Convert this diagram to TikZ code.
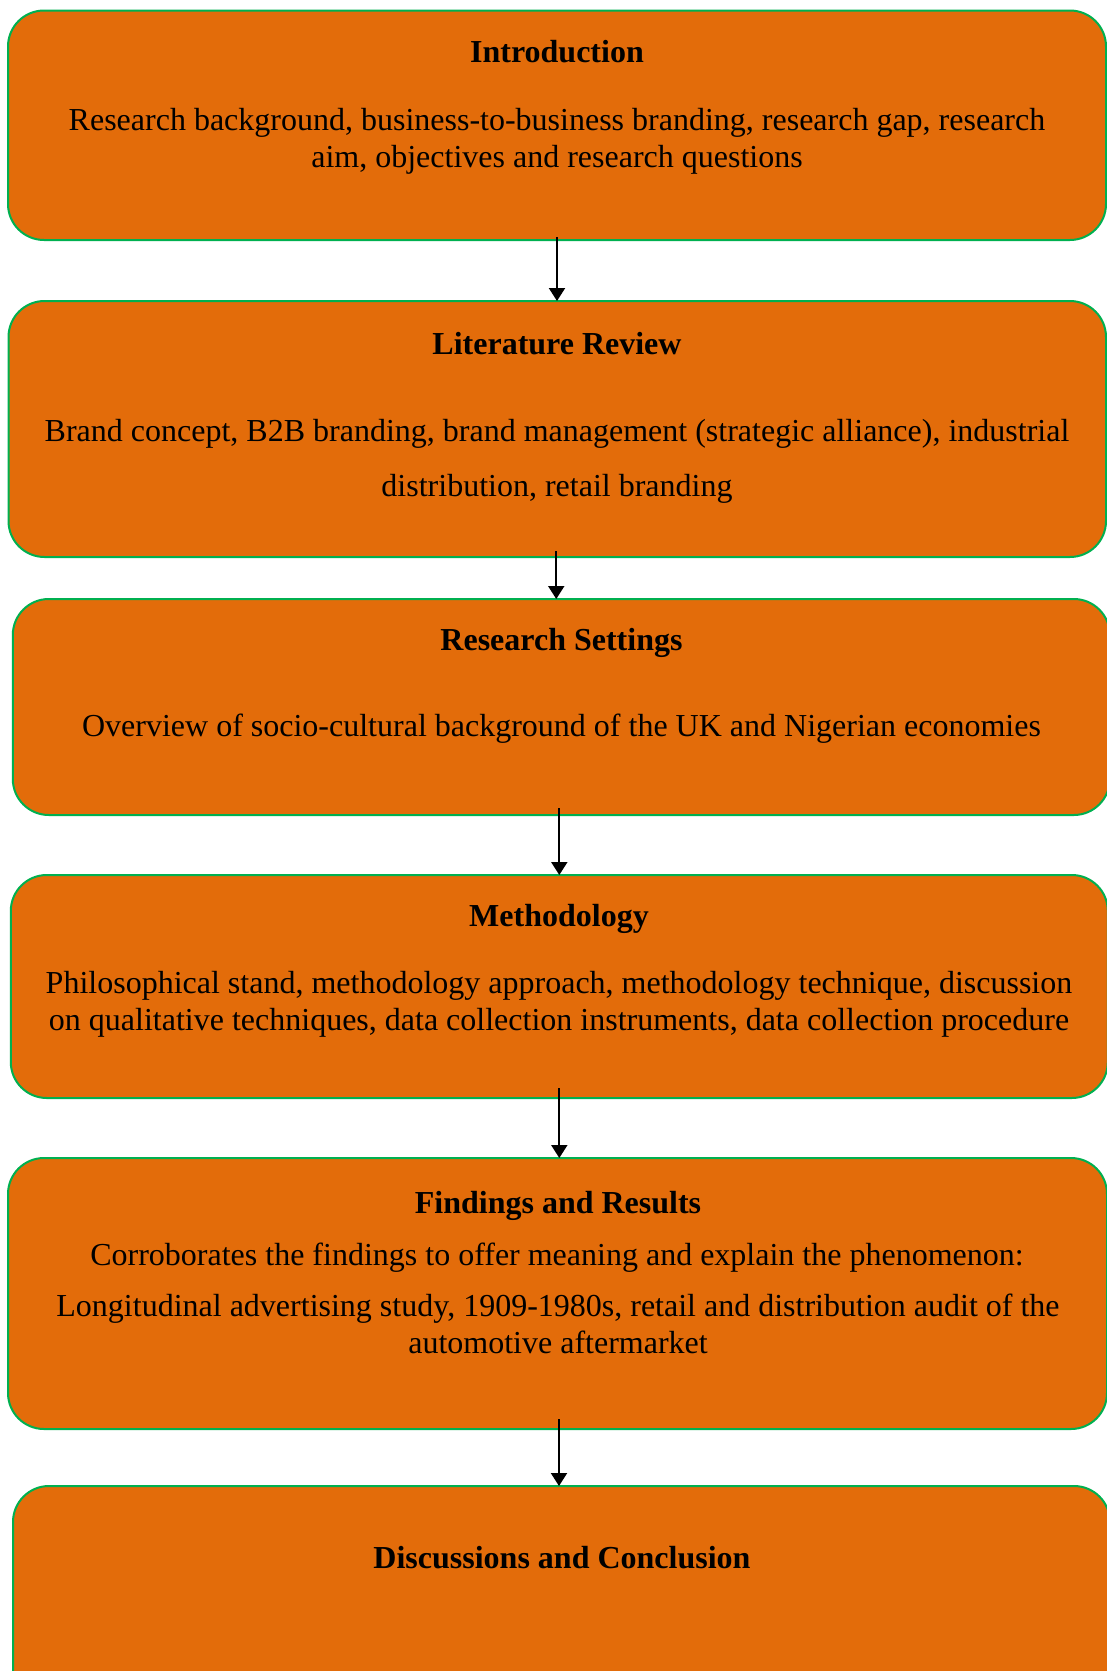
\documentclass[tikz,border=0pt]{standalone}
\usepackage{fontspec}
\setmainfont{Liberation Serif}
\usetikzlibrary{arrows.meta}
\definecolor{stagefill}{HTML}{E36C0A}
\definecolor{stageline}{HTML}{00B050}
\tikzset{
  stage/.style={draw=stageline, fill=stagefill, line width=2pt,
    rounded corners=36pt, inner sep=0pt, outer sep=0pt, rectangle},
  head/.style={anchor=base, inner sep=0pt, font=\fontsize{32}{38}\selectfont\bfseries},
  body/.style={anchor=base, inner sep=0pt, font=\fontsize{32}{38}\selectfont},
  flow/.style={draw=black, line width=2pt, -{Triangle[width=16pt,length=13pt]}}
}
\begin{document}
\begin{tikzpicture}[x=1pt, y=-1pt]
\useasboundingbox (0,0) rectangle (1107,1671);
\begin{scope}
\clip (0,0) rectangle (1107,1671);
% stage boxes
\node[stage, minimum width=1098pt, minimum height=229.5pt] (intro) at (557,125.25) {};
\node[stage, minimum width=1097.5pt, minimum height=256pt] (litrev) at (557.25,429) {};
\node[stage, minimum width=1097pt, minimum height=216pt] (settings) at (561.3,707) {};
\node[stage, minimum width=1097pt, minimum height=223pt] (method) at (559.3,986.5) {};
\node[stage, minimum width=1099pt, minimum height=271pt] (findings) at (557.5,1293.5) {};
\node[stage, minimum width=1097pt, minimum height=240pt] (concl) at (561.5,1606) {};
\end{scope}

% texts
\node[head] (intro-h) at (557,62) {Introduction};
\node[body] (intro-a) at (557,130) {Research background, business-to-business branding, research gap, research};
\node[body] (intro-b) at (557,167) {aim, objectives and research questions};

\node[head] (litrev-h) at (557,354) {Literature Review};
\node[body] (litrev-a) at (557,441.5) {Brand concept, B2B branding, brand management (strategic alliance), industrial};
\node[body] (litrev-b) at (557,496.5) {distribution, retail branding};

\node[head] (settings-h) at (561.5,650) {Research Settings};
\node[body] (settings-a) at (561.5,736) {Overview of socio-cultural background of the UK and Nigerian economies};

\node[head] (method-h) at (559,926) {Methodology};
\node[body] (method-a) at (559,993) {Philosophical stand, methodology approach, methodology technique, discussion};
\node[body] (method-b) at (559,1030) {on qualitative techniques, data collection instruments, data collection procedure};

\node[head] (findings-h) at (558,1213) {Findings and Results};
\node[body] (findings-a) at (557,1265) {Corroborates the findings to offer meaning and explain the phenomenon:};
\node[body] (findings-b) at (558,1316.5) {Longitudinal advertising study, 1909-1980s, retail and distribution audit of the};
\node[body] (findings-c) at (558,1353) {automotive aftermarket};

\node[head] (concl-h) at (562,1568) {Discussions and Conclusion};

% connectors
\draw[flow] ([yshift=3pt]intro.south) -- (intro.south |- litrev.north);
\draw[flow] ([xshift=-1pt,yshift=6pt]litrev.south) -- ([xshift=-1pt]litrev.south |- settings.north);
\draw[flow] ([xshift=-2pt,yshift=7pt]settings.south) -- ([xshift=-2pt]settings.south |- method.north);
\draw[flow] ([yshift=10pt]method.south) -- (method.south |- findings.north);
\draw[flow] ([xshift=1.5pt,yshift=10pt]findings.south) -- ([xshift=1.5pt]findings.south |- concl.north);
\end{tikzpicture}
\end{document}
